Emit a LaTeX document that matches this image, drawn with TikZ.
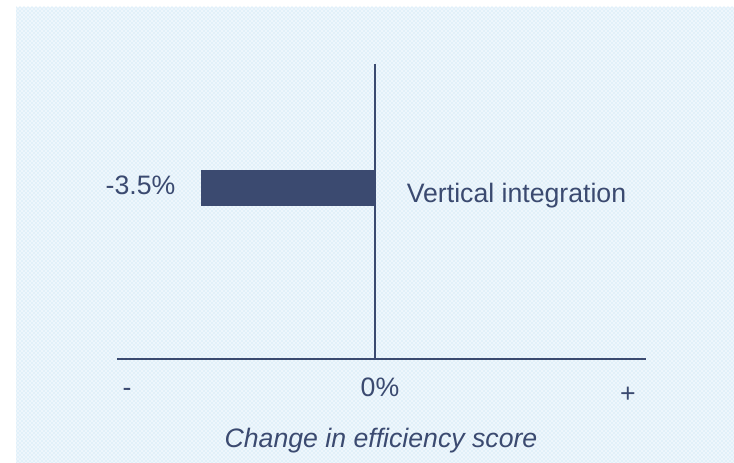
\documentclass[tikz,border=0pt]{standalone}
\usepackage{fontspec}
\setmainfont{Liberation Sans}
\usepackage{xcolor}
\usetikzlibrary{patterns}
\definecolor{chartblue}{HTML}{3B4A70}
\definecolor{paleblue}{HTML}{EEF6FC}
\definecolor{dotblue}{HTML}{B9DDF2}

\begin{document}
\begin{tikzpicture}[x=0.75pt,y=-0.75pt]
\tikzset{axis line/.style={draw=chartblue,line width=1.6pt}}
\tikzset{every node/.style={text=chartblue,font=\fontsize{20}{24}\selectfont,inner sep=0pt,anchor=base}}

\useasboundingbox (0,0) rectangle (734,463);
\fill[paleblue] (16,7) rectangle (734,463);
\fill[pattern=crosshatch dots,pattern color=dotblue] (16,7) rectangle (734,463);

% axes
\coordinate (top) at (375,64);
\coordinate (origin) at (375,359);
\coordinate (left) at (117,359);
\coordinate (right) at (646,359);
\draw[axis line] (top) -- (origin);
\draw[axis line] (left) -- (right);

% bar
\fill[chartblue] (201,170) rectangle (374,206);

\node (value) at (140.5,195) {-3.5\%};
\node (category) at (516.5,203) {Vertical integration};
\node (minus) at (127,396) {-};
\node (zero) at (380,396) {0\%};
\node (plus) at (628,402) {+};
\node (title) at (381,447) {\itshape Change in efficiency score};

\end{tikzpicture}
\end{document}
